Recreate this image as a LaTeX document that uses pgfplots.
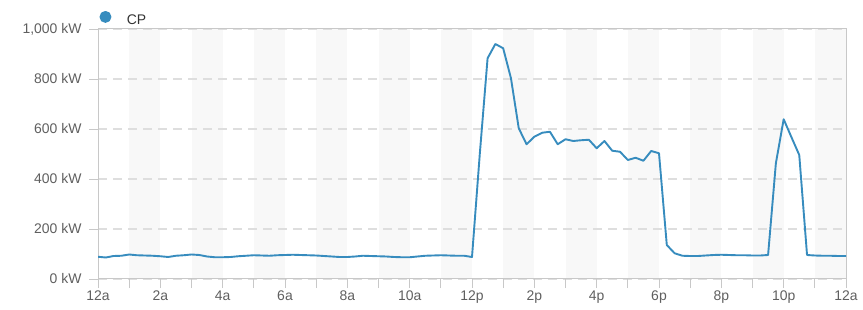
\documentclass[border=0pt]{standalone}
\usepackage{fontspec}
\setmainfont{Liberation Sans}
\usepackage{pgfplots}
\pgfplotsset{compat=1.18}
\definecolor{cpblue}{RGB}{55,140,190}
\definecolor{band}{RGB}{248,248,248}
\definecolor{gridc}{RGB}{222,222,222}
\definecolor{axisc}{RGB}{200,200,200}
\definecolor{labc}{RGB}{95,95,95}
\begin{document}
\begin{tikzpicture}
\begin{axis}[
  set layers,
  at={(98bp,31bp)}, anchor=south west,
  scale only axis, width=748bp, height=250bp,
  xmin=0, xmax=24, ymin=0, ymax=1000,
  xtick={0,2,...,24},
  xticklabels={12a,2a,4a,6a,8a,10a,12p,2p,4p,6p,8p,10p,12a},
  minor xtick={1,3,...,23},
  ytick={0,200,...,1000},
  yticklabels={0 kW,200 kW,400 kW,600 kW,800 kW,{1,000 kW}},
  xtick pos=left, ytick pos=left,
  tick align=outside, major tick length=9bp, minor tick length=9bp,
  tick style={axisc, line width=0.8bp},
  ymajorgrids,
  major grid style={gridc, dash pattern=on 9bp off 6bp, line width=1.2bp},
  axis line style={axisc, line width=1bp},
  tick label style={font=\fontsize{14}{16}\selectfont, text=labc},
  yticklabel style={xshift=-4bp},
  xticklabel style={yshift=1bp},
  legend image code/.code={\fill[cpblue] (0bp,0.33em) circle (5bp);},
  legend style={at={(0,1)}, anchor=south west, draw=none, fill=none,
    inner sep=0pt, xshift=1.3bp, yshift=1bp, font=\fontsize{14}{16}\selectfont, text=black!80,
    /tikz/every odd column/.style={column sep=13.5bp}},
]
\begin{pgfonlayer}{axis background}
\fill[band] (axis cs:1,0) rectangle (axis cs:2,1000);
\fill[band] (axis cs:3,0) rectangle (axis cs:4,1000);
\fill[band] (axis cs:5,0) rectangle (axis cs:6,1000);
\fill[band] (axis cs:7,0) rectangle (axis cs:8,1000);
\fill[band] (axis cs:9,0) rectangle (axis cs:10,1000);
\fill[band] (axis cs:11,0) rectangle (axis cs:12,1000);
\fill[band] (axis cs:13,0) rectangle (axis cs:14,1000);
\fill[band] (axis cs:15,0) rectangle (axis cs:16,1000);
\fill[band] (axis cs:17,0) rectangle (axis cs:18,1000);
\fill[band] (axis cs:19,0) rectangle (axis cs:20,1000);
\fill[band] (axis cs:21,0) rectangle (axis cs:22,1000);
\fill[band] (axis cs:23,0) rectangle (axis cs:24,1000);
\end{pgfonlayer}
\addplot[cpblue, line width=1.9bp, line join=round, no markers] table {
x y
0.00 89
0.25 86
0.50 92
0.75 93
1.00 98
1.25 95
1.50 94
1.75 93
2.00 91
2.25 88
2.50 93
2.75 95
3.00 98
3.25 96
3.50 90
3.75 87
4.00 87
4.25 88
4.50 91
4.75 93
5.00 95
5.25 94
5.50 93
5.75 95
6.00 96
6.25 97
6.50 96
6.75 95
7.00 94
7.25 92
7.50 90
7.75 88
8.00 88
8.25 90
8.50 93
8.75 92
9.00 91
9.25 90
9.50 88
9.75 87
10.00 87
10.25 90
10.50 93
10.75 94
11.00 95
11.25 94
11.50 93
11.75 93
12.00 88
12.25 500
12.50 883
12.75 940
13.00 923
13.25 803
13.50 603
13.75 539
14.00 569
14.25 585
14.50 589
14.75 539
15.00 559
15.25 552
15.50 555
15.75 557
16.00 523
16.25 552
16.50 513
16.75 509
17.00 476
17.25 485
17.50 473
17.75 512
18.00 503
18.25 136
18.50 103
18.75 93
19.00 92
19.25 92
19.50 94
19.75 96
20.00 97
20.25 96
20.50 95
20.75 95
21.00 94
21.25 94
21.50 96
21.75 463
22.00 639
22.25 567
22.50 496
22.75 96
23.00 94
23.25 93
23.50 93
23.75 92
24.00 92
};
\addlegendentry{CP}
\end{axis}
\pgfresetboundingbox
\path[use as bounding box] (0bp,0bp) rectangle (863bp,310bp);
\end{tikzpicture}
\end{document}
